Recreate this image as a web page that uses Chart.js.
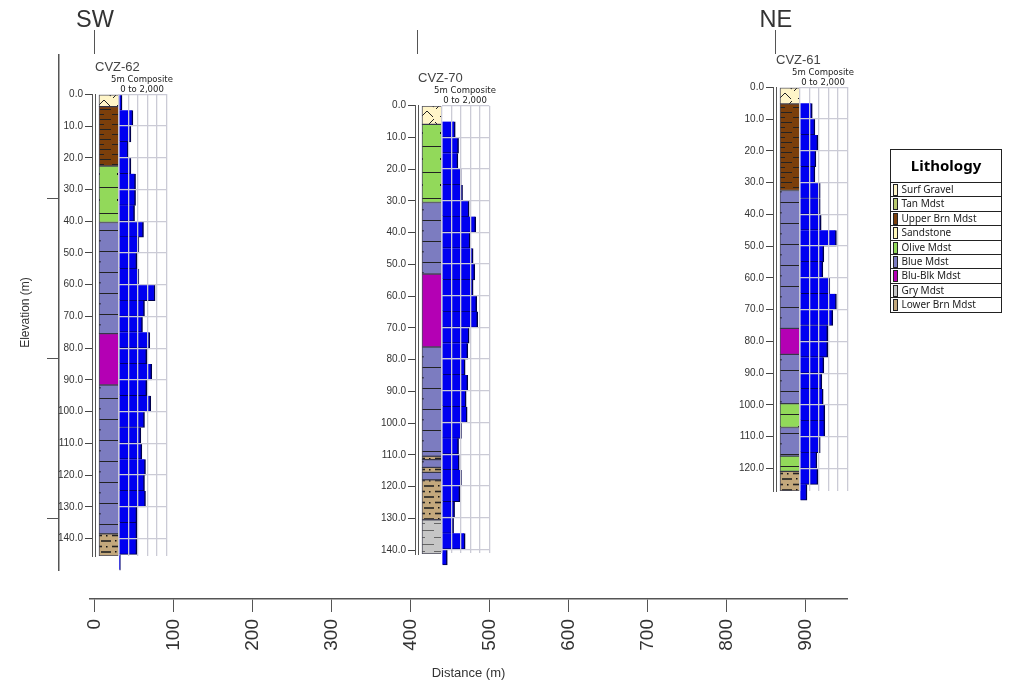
<!DOCTYPE html>
<html>
<head>
<meta charset="utf-8">
<title>Lithology sections</title>
<script src="https://cdn.jsdelivr.net/npm/chart.js@4"></script>
<style>
  html, body { margin: 0; padding: 0; background: #fff; }
  body { width: 1015px; height: 688px; position: relative; overflow: hidden; }
  canvas { position: absolute; }
  #legend { position: absolute; left: 890px; top: 149px; width: 110px; border: 1px solid #222; font-family: "Noto Sans", sans-serif; color: #222; }
  #legend .head { height: 32px; line-height: 31px; text-align: center; font-weight: bold; font-size: 15px; color: #000; }
  #legend .row { height: 13.4px; line-height: 13px; border-top: 1px solid #222; font-size: 10px; position: relative; padding-left: 10.5px; white-space: nowrap; }
  #legend .row i { position: absolute; left: 2px; top: 1px; width: 3px; height: 10px; border: 1px solid #222; }
</style>
</head>
<body>
<canvas id="distance" width="1015" height="688" style="left:0;top:0"></canvas>
<canvas id="elevation" width="75" height="556" style="left:0;top:40px"></canvas>
<div id="legend"></div>

<script>
// Distance along the section, well positions
var wellNames = ["CVZ-62", "CVZ-70", "CVZ-61"];
var wellDistance = [0, 408, 862];
var sectionEnds = ["SW", "", "NE"];
var elevationTicks = [50, 100, 150];

// Lithology, unit and bottom depth of each interval (m)
var legendUnits = ["Surf Gravel", "Tan Mdst", "Upper Brn Mdst", "Sandstone", "Olive Mdst", "Blue Mdst", "Blu-Blk Mdst", "Gry Mdst", "Lower Brn Mdst"];

var units62 = ["Surf Gravel", "Upper Brn Mdst", "Olive Mdst", "Blue Mdst", "Blu-Blk Mdst", "Blue Mdst", "Lower Brn Mdst"];
var bottoms62 = [3.9, 22.6, 40.4, 75.4, 91.6, 138.5, 145.5];

var units70 = ["Surf Gravel", "Olive Mdst", "Blue Mdst", "Blu-Blk Mdst", "Blue Mdst", "Lower Brn Mdst", "Blue Mdst", "Lower Brn Mdst", "Blue Mdst", "Lower Brn Mdst", "Gry Mdst"];
var bottoms70 = [5.9, 30.5, 53, 76, 110.4, 111.5, 113.9, 115.5, 117.8, 130.4, 141.2];

var units61 = ["Surf Gravel", "Upper Brn Mdst", "Blue Mdst", "Blu-Blk Mdst", "Blue Mdst", "Olive Mdst", "Blue Mdst", "Olive Mdst", "Lower Brn Mdst"];
var bottoms61 = [5.2, 32.5, 75.9, 84.1, 99.6, 107.1, 116.1, 120.9, 127.1];

// 5m composite values, one per 5 m interval from the top of the hole
var composite62 = [139, 597, 514, 403, 514, 709, 709, 667, 1042, 848, 764, 848, 1529, 1084, 1000, 1306, 1181, 1390, 1181, 1348, 1084, 931, 973, 1126, 1084, 1126, 764, 764, 764, 70];
var composite70 = [null, 570, 709, 681, 820, 876, 1153, 1431, 1195, 1320, 1390, 1320, 1473, 1514, 1153, 1098, 986, 1098, 1028, 1070, 834, 709, 737, 834, 764, 542, 500, 986, 236];
var composite61 = [null, 528, 639, 764, 681, 639, 862, 862, 903, 1543, 1015, 973, 1265, 1543, 1390, 1181, 1181, 1015, 931, 987, 1056, 1056, 862, 723, 764, 306];

var lithColors = {
  "Surf Gravel": "#fff5c8", "Tan Mdst": "#b9c96e", "Upper Brn Mdst": "#7b3f0b", "Sandstone": "#fff8b8",
  "Olive Mdst": "#92d95a", "Blue Mdst": "#7c7cc0", "Blu-Blk Mdst": "#b400b4", "Gry Mdst": "#c6c6c6", "Lower Brn Mdst": "#c3a87c"
};

var PX_PER_M = 3.17;
var TEXT = "#333";
var AXIS = "#555";

// strokes on top of the plain colour, one small tile per rock type
function lithPattern(unit) {
  var c = document.createElement("canvas");
  var g = c.getContext("2d");
  var sizes = { "Surf Gravel": 26, "Upper Brn Mdst": 10, "Olive Mdst": 26, "Blue Mdst": 21, "Lower Brn Mdst": 11, "Gry Mdst": 14 };
  c.width = 19;
  c.height = sizes[unit] || 10;
  g.fillStyle = lithColors[unit];
  g.fillRect(0, 0, c.width, c.height);
  g.strokeStyle = "#222";
  g.fillStyle = "#111";
  function seg(x1, y1, x2, y2, w) {
    g.lineWidth = w || 1;
    g.beginPath(); g.moveTo(x1, y1); g.lineTo(x2, y2); g.stroke();
  }
  if (unit == "Surf Gravel") {
    seg(1, 3, 8, 10); seg(8, 10, 2, 16); seg(19, 0, 11, 8); seg(11, 8, 19, 14); seg(6, 24, 12, 18); seg(12, 18, 18, 24);
  } else if (unit == "Upper Brn Mdst") {
    seg(1, 2.5, 12, 2.5); seg(8, 7.5, 19, 7.5);
  } else if (unit == "Olive Mdst") {
    seg(0, 1.5, 19, 1.5); g.fillRect(6, 13, 2, 2);
  } else if (unit == "Blue Mdst") {
    seg(0, 1.5, 19, 1.5); g.fillRect(7, 11, 1.5, 1.5);
  } else if (unit == "Lower Brn Mdst") {
    seg(1, 2.5, 10, 2.5, 1.6); seg(9, 8, 19, 8, 1.6); g.fillRect(14, 2, 1.5, 1.5); g.fillRect(4, 7, 1.5, 1.5);
  } else if (unit == "Gry Mdst") {
    g.strokeStyle = "#666";
    seg(7, 3.5, 19, 3.5); seg(0, 10.5, 10, 10.5);
  }
  return g.createPattern(c, "repeat");
}

// section baseline with the well collar marks on top
new Chart(document.getElementById("distance"), {
  type: "bar",
  data: { datasets: [] },
  options: {
    responsive: false,
    animation: false,
    layout: { autoPadding: false, padding: { left: 90, right: 168 } },
    plugins: { legend: { display: false }, title: { display: false }, tooltip: { enabled: false } },
    scales: {
      y: { display: false },
      x: {
        type: "linear", position: "bottom", min: -6.3, max: 952, offset: false,
        border: { color: AXIS, width: 1.5 },
        grid: { offset: false, drawOnChartArea: false, tickLength: 13, color: AXIS },
        ticks: { stepSize: 100, includeBounds: false, minRotation: 90, maxRotation: 90, padding: 7, color: TEXT, font: { family: "Liberation Sans", size: 19 } },
        title: { display: true, text: "Distance (m)", color: TEXT, font: { family: "Liberation Sans", size: 13 }, padding: { top: 0, bottom: 7 } },
        afterFit: function (s) { s.height = 89; }
      },
      wells: {
        type: "linear", position: "top", min: -6.3, max: 952, offset: false,
        border: { display: false },
        grid: { offset: false, drawOnChartArea: false, tickLength: 24, color: AXIS },
        ticks: {
          autoSkip: false, maxRotation: 0, padding: -5, color: TEXT, font: { family: "Liberation Sans", size: 23.5 },
          callback: function (v) { return sectionEnds[wellDistance.indexOf(v)]; }
        },
        afterBuildTicks: function (s) { s.ticks = wellDistance.map(function (d) { return { value: d }; }); },
        afterFit: function (s) { s.height = 54; }
      }
    }
  }
});

// elevation rail on the far left, numbers are not shown in the original
new Chart(document.getElementById("elevation"), {
  type: "bar",
  data: { datasets: [] },
  options: {
    responsive: false,
    animation: false,
    layout: { autoPadding: false, padding: { top: 15, bottom: 26, right: 16 } },
    plugins: {
      legend: { display: false },
      tooltip: { enabled: false },
      title: { display: true, position: "left", text: "Elevation (m)", color: TEXT, font: { family: "Liberation Sans", size: 12, weight: "normal" }, padding: { top: 18, bottom: 14.6 } }
    },
    scales: {
      x: { display: false },
      y: {
        min: 33.75, max: 194.7,
        border: { color: AXIS, width: 1.5 },
        grid: { drawOnChartArea: false, tickLength: 12, color: AXIS },
        ticks: { display: false },
        afterBuildTicks: function (s) { s.ticks = elevationTicks.map(function (v) { return { value: v }; }); },
        afterFit: function (s) { s.width = 12; }
      }
    }
  }
});

function addCanvas(left, top, w, h) {
  var c = document.createElement("canvas");
  c.width = w;
  c.height = h;
  c.style.left = left + "px";
  c.style.top = top + "px";
  document.body.insertBefore(c, document.getElementById("legend"));
  return c;
}

// left track of a well: depth axis, double rail and the lithology column
function drawLith(name, left, depthTop, units, bottoms) {
  var maxDepth = bottoms[bottoms.length - 1];
  var trackH = maxDepth * PX_PER_M;
  var canvasTop = Math.floor(depthTop) - 12;
  var padTop = depthTop - canvasTop;
  var sets = units.map(function (u, i) {
    return {
      label: u,
      data: [[i ? bottoms[i - 1] : 0, bottoms[i]]],
      backgroundColor: lithPattern(u),
      borderColor: "rgba(30,30,50,.8)",
      borderWidth: { top: 1, bottom: 1, left: 1, right: 0 },
      borderSkipped: false,
      barThickness: 19,
      grouped: false
    };
  });
  new Chart(addCanvas(left - 60, canvasTop, 87, Math.ceil(padTop + trackH + 12)), {
    type: "bar",
    data: { labels: [name], datasets: sets },
    options: {
      responsive: false,
      animation: false,
      layout: { autoPadding: false, padding: { top: padTop, bottom: 12 } },
      plugins: { legend: { display: false }, title: { display: false }, tooltip: { enabled: false } },
      scales: {
        x: { display: false },
        y: {
          min: 0, max: maxDepth, reverse: true, weight: 1,
          border: { color: AXIS, width: 1 },
          grid: { drawOnChartArea: false, tickLength: 7, color: "#444" },
          ticks: {
            stepSize: 10, includeBounds: false, padding: 2, color: TEXT,
            font: { family: "Liberation Sans", size: 10 },
            callback: function (v) { return v.toFixed(1); }
          },
          afterFit: function (s) { s.width = 57; }
        },
        rail: {
          position: "left", min: 0, max: maxDepth, reverse: true, weight: 0,
          border: { color: AXIS, width: 1 },
          grid: { drawOnChartArea: false, drawTicks: false },
          ticks: { display: false },
          afterFit: function (s) { s.width = 3; }
        }
      }
    }
  });
}

// right track of a well: the 5m composite bars with the grid over them
function drawComposite(name, left, depthTop, maxDepth, values) {
  var canvasTop = Math.floor(depthTop - 35.15);
  var points = values.map(function (v, i) { return { x: v, y: i * 5 + 2.5 }; });
  new Chart(addCanvas(left, canvasTop, 94, Math.ceil(35.15 + maxDepth * PX_PER_M + 30)), {
    type: "bar",
    data: {
      datasets: [{
        label: "5m Composite",
        data: points,
        backgroundColor: "#0000f0",
        borderColor: "#00004a",
        borderWidth: { top: 0, right: 1.5, bottom: 1, left: 0 },
        borderSkipped: false,
        barPercentage: 1,
        categoryPercentage: 1,
        clip: false
      }]
    },
    options: {
      indexAxis: "y",
      responsive: false,
      animation: false,
      layout: { autoPadding: false, padding: { top: depthTop - 35.15 - canvasTop, bottom: 30 } },
      plugins: {
        legend: { display: false },
        tooltip: { enabled: false },
        title: { display: true, text: name, align: "start", color: "#444", font: { family: "Liberation Sans", size: 13, weight: "normal" }, padding: 0 },
        subtitle: { display: true, text: ["5m Composite", "0 to 2,000"], color: "#222", font: { family: "DejaVu Sans", size: 8.5, lineHeight: 1.15 }, padding: 0 }
      },
      scales: {
        x: {
          type: "linear", position: "top", min: 0, max: 2000,
          border: { display: false },
          grid: { z: 1, color: "#cbcbd6", lineWidth: 1.3, drawTicks: false },
          ticks: { display: false, stepSize: 400 },
          afterFit: function (s) { s.height = 0; }
        },
        y: {
          type: "linear", min: 0, max: maxDepth, reverse: true, offset: false,
          border: { display: false },
          grid: { z: 1, offset: false, color: "#cbcbd6", lineWidth: 1.3, drawTicks: false },
          ticks: { display: false, stepSize: 10, includeBounds: false },
          afterFit: function (s) { s.width = 23.7; }
        },
        // empty axis, keeps the titles centred over the whole track
        spacer: {
          type: "linear", position: "right", min: 0, max: 1,
          border: { display: false },
          grid: { display: false },
          ticks: { display: false },
          afterFit: function (s) { s.width = 22.7; }
        }
      }
    }
  });
}

var wellLeft = [95, 418, 776];
var wellTop = [94.3, 105.7, 87.3];
var wellUnits = [units62, units70, units61];
var wellBottoms = [bottoms62, bottoms70, bottoms61];
var wellComposite = [composite62, composite70, composite61];

wellNames.forEach(function (name, i) {
  drawLith(name, wellLeft[i], wellTop[i], wellUnits[i], wellBottoms[i]);
  drawComposite(name, wellLeft[i], wellTop[i], wellBottoms[i][wellBottoms[i].length - 1], wellComposite[i]);
});

// lithology key
var legendHtml = '<div class="head">Lithology</div>';
legendUnits.forEach(function (u) {
  legendHtml += '<div class="row"><i style="background:' + lithColors[u] + '"></i>' + u + '</div>';
});
document.getElementById("legend").innerHTML = legendHtml;
</script>
</body>
</html>
